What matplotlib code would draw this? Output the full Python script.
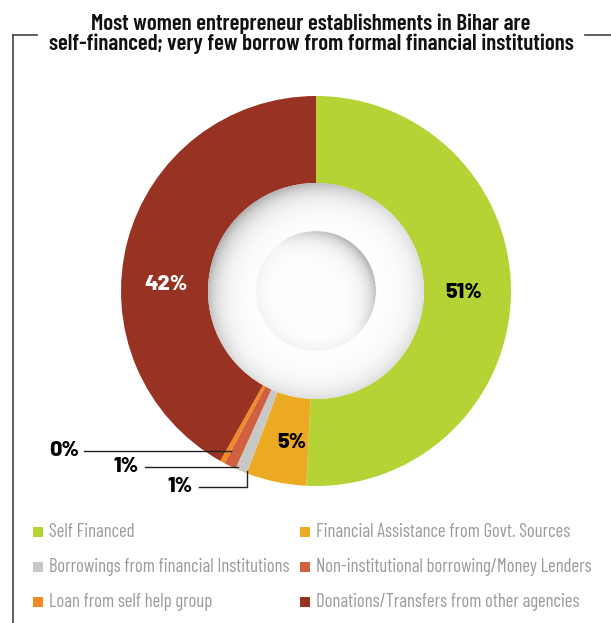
import numpy as np
import matplotlib
matplotlib.use('Agg')
import matplotlib.pyplot as plt
from matplotlib.patches import Circle

# доли источников финансирования, %
categories = ['Self Financed',
              'Financial Assistance from Govt. Sources',
              'Borrowings from financial Institutions',
              'Non-institutional borrowing/Money Lenders',
              'Loan from self help group',
              'Donations/Transfers from other agencies']
values     = [51, 5, 1, 1, 0.4, 42]
colors     = ['#b5d334', '#ebaa22', '#c8c8c6', '#d0603f', '#f28a24', '#983222']

title = ('Most women entrepreneur establishments in Bihar are\n'
         'self-financed; very few borrow from formal financial institutions')

W, H = 611, 623
cond  = ['Barlow Condensed', 'DejaVu Sans']
pfont = ['Barlow', 'DejaVu Sans']

fig = plt.figure(figsize=(W / 100, H / 100), dpi=100)
ax  = fig.add_axes([0, 0, 1, 1])

def Y(y):
    # пиксели сверху -> координаты осей
    return H - y

cx, cy = 316, Y(291)
R, r_hole = 195, 108

wedges, _ = ax.pie(values, colors=colors, startangle=90, counterclock=False,
                   center=(cx, cy), radius=R,
                   wedgeprops=dict(width=R - r_hole, linewidth=0))

# объёмная "кнопка" в центре кольца
n = 400
xs = np.linspace(cx - r_hole, cx + r_hole, n)
ys = np.linspace(cy - r_hole, cy + r_hole, n)
gx, gy = np.meshgrid(xs, ys)
dx, dy = gx - cx, gy - cy
rr = np.hypot(dx, dy)
th = np.arctan2(dy, dx)
r_in = 60
ring_dir = 0.4 + 0.6 * np.clip(np.cos(th - np.deg2rad(135)), 0, 1)
ring = np.exp(-(r_hole - rr) / 12.0) * ring_dir
in_dir = 0.15 + 0.85 * np.clip(np.cos(th - np.deg2rad(40)), 0, 1)
inner = np.exp(-(r_in - rr) / 9.0) * in_dir
dark = np.where(rr < r_in, inner, ring)
dark = np.clip(dark, 0, 1)
g = 1 - 0.32 * dark
img = np.dstack([g, g, g, np.ones_like(g)])
im = ax.imshow(img, extent=(cx - r_hole, cx + r_hole, cy - r_hole, cy + r_hole),
               origin='lower', interpolation='bilinear', zorder=3)
im.set_clip_path(Circle((cx, cy), r_hole, transform=ax.transData))

ax.set_xlim(0, W)
ax.set_ylim(0, H)
ax.set_aspect('equal')
ax.axis('off')

# подписи долей
lbl = [f'{v:.0f}%' for v in values]
pk = dict(ha='center', va='center', fontsize=15.5, fontweight=800, family=pfont, zorder=5)
ax.text(464, Y(292), lbl[0], color='black', **pk)
ax.text(292, Y(443), lbl[1], color='black', **pk)
ax.text(166, Y(284), lbl[5], color='white', **pk)
ax.text(64, Y(451), lbl[4], color='black', **pk)
ax.text(126, Y(467), lbl[3], color='black', **pk)
ax.text(180, Y(487), lbl[2], color='black', **pk)

lc = '#222222'
ax.plot([84, 231], [Y(451), Y(451)], color=lc, lw=1, zorder=6)
ax.plot([145, 238], [Y(467), Y(467)], color=lc, lw=1, zorder=6)
ax.plot([199, 247, 247], [Y(487), Y(487), Y(471)], color=lc, lw=1, zorder=6)

# рамка
fc = '#444444'
ax.plot([13, 37], [Y(35), Y(35)], color=fc, lw=1.2)
ax.plot([13, 13], [Y(35), 0], color=fc, lw=1.2)
ax.plot([585, 611], [Y(35), Y(35)], color=fc, lw=1.2)

ax.text(311, Y(34), title, ha='center', va='center', fontsize=16.5,
        fontweight='semibold', family=cond, linespacing=1.0, color='#111111')

# легенда
rows = [532, 567, 602]
colx = [33, 300]
for i, (name, c) in enumerate(zip(categories, colors)):
    x0 = colx[i % 2]
    y0 = rows[i // 2]
    ax.add_patch(plt.Rectangle((x0, Y(y0) - 5), 10, 10, color=c, lw=0))
    ax.text(x0 + 16, Y(y0), name, ha='left', va='center', fontsize=13.5,
            family=cond, color='#9a9a9a')

fig.savefig('out.png', dpi=100)
